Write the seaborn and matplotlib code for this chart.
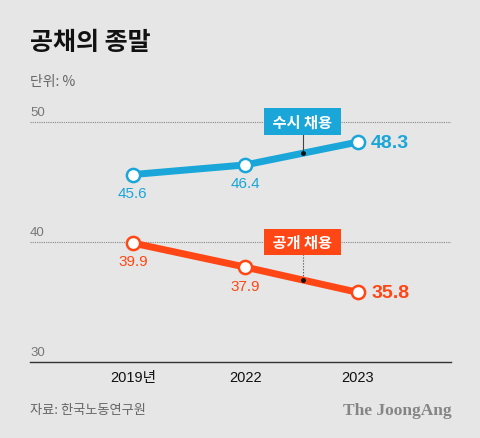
import numpy as np
import pandas as pd
import matplotlib.pyplot as plt
import seaborn as sns

years = ['2019년', '2022', '2023']
rolling = [45.6, 46.4, 48.3]     # 수시 채용
open_hire = [39.9, 37.9, 35.8]   # 공개 채용
series_names = ['수시 채용', '공개 채용']
y_ticks = [30, 40, 50]

BG = '#e6e6e6'
BLUE = '#1aa6d8'
RED = '#ff4614'
KR = ['Noto Sans CJK KR', 'DejaVu Sans']
NUM = ['Liberation Sans', 'Noto Sans CJK KR']

sns.set_theme(style='white')
plt.rcParams['font.family'] = KR

df = pd.DataFrame({
    'x': list(range(len(years))) * 2,
    'value': rolling + open_hire,
    'series': [series_names[0]] * 3 + [series_names[1]] * 3,
})

fig = plt.figure(figsize=(4.8, 4.39), dpi=100, facecolor=BG)
ax = fig.add_axes([0.0625, 0.173, 0.877, 0.575])
ax.set_facecolor(BG)

sns.lineplot(data=df, x='x', y='value', hue='series',
             palette={series_names[0]: BLUE, series_names[1]: RED},
             linewidth=5, marker='o', markersize=9.5, markerfacecolor='white',
             markeredgewidth=1.8, legend=False, ax=ax)
# marker edges in series colour
for line, c in zip(ax.get_lines(), [BLUE, RED]):
    line.set_markeredgecolor(c)

ax.set_xlim(-0.916, 2.83)
ax.set_ylim(30, 51)

# grid lines and y labels
for t in y_ticks[1:]:
    ax.axhline(t, color='#888888', lw=0.8, ls=(0, (1, 1)), zorder=0)
for t in y_ticks:
    ax.text(-0.916, t + 0.3, str(t), fontsize=9.5, color='#777777',
            ha='left', va='bottom', family=NUM)

for s in ['top', 'right', 'left']:
    ax.spines[s].set_visible(False)
ax.spines['bottom'].set_color('#333333')
ax.spines['bottom'].set_linewidth(1)
ax.set_xticks(range(len(years)))
ax.set_xticklabels(years, family=NUM, fontsize=10.5, color='#111111')
ax.tick_params(axis='x', direction='in', length=4, width=0.8,
               color='#333333', pad=6)
ax.set_yticks([])
ax.set_xlabel('')
ax.set_ylabel('')

# value labels
for vals, c in [(rolling, BLUE), (open_hire, RED)]:
    for i, v in enumerate(vals[:-1]):
        ax.text(i, v - 0.95, f'{v}', color=c, fontsize=11, ha='center',
                va='top', family=NUM)
    ax.text(2 + 0.12, vals[-1], f'{vals[-1]}', color=c, fontsize=14,
            fontweight='bold', ha='left', va='center', family=NUM)

# series tags with leader lines
tag_x = 1.51
for name, vals, c, box_y, ls in [(series_names[0], rolling, BLUE, 50, '-'),
                                  (series_names[1], open_hire, RED, 40, ':')]:
    target = np.interp(tag_x, range(len(vals)), vals)
    ax.plot([tag_x, tag_x], [box_y - 1, target], color='#444444', lw=0.8,
            ls=ls, zorder=3)
    ax.plot(tag_x, target, 'o', color='#111111', ms=2.5, zorder=4)
    ax.text(tag_x, box_y, f' {name} ', color='white', fontsize=11,
            fontweight='bold', ha='center', va='center', zorder=5,
            bbox=dict(boxstyle='square,pad=0.35', fc=c, ec='none'))

fig.text(0.0625, 0.903, '공채의 종말', fontsize=18, fontweight='black',
         color='#111111', ha='left', va='center')
fig.text(0.0625, 0.813, '단위: %', fontsize=10, color='#666666',
         ha='left', va='center')
fig.text(0.0625, 0.064, '자료: 한국노동연구원', fontsize=9.5, color='#666666',
         ha='left', va='center')
fig.text(0.94, 0.064, 'The JoongAng', fontsize=12.5, fontweight='bold',
         color='#858585', ha='right', va='center', family='Liberation Serif')

fig.savefig('out.png', dpi=100, facecolor=BG)
